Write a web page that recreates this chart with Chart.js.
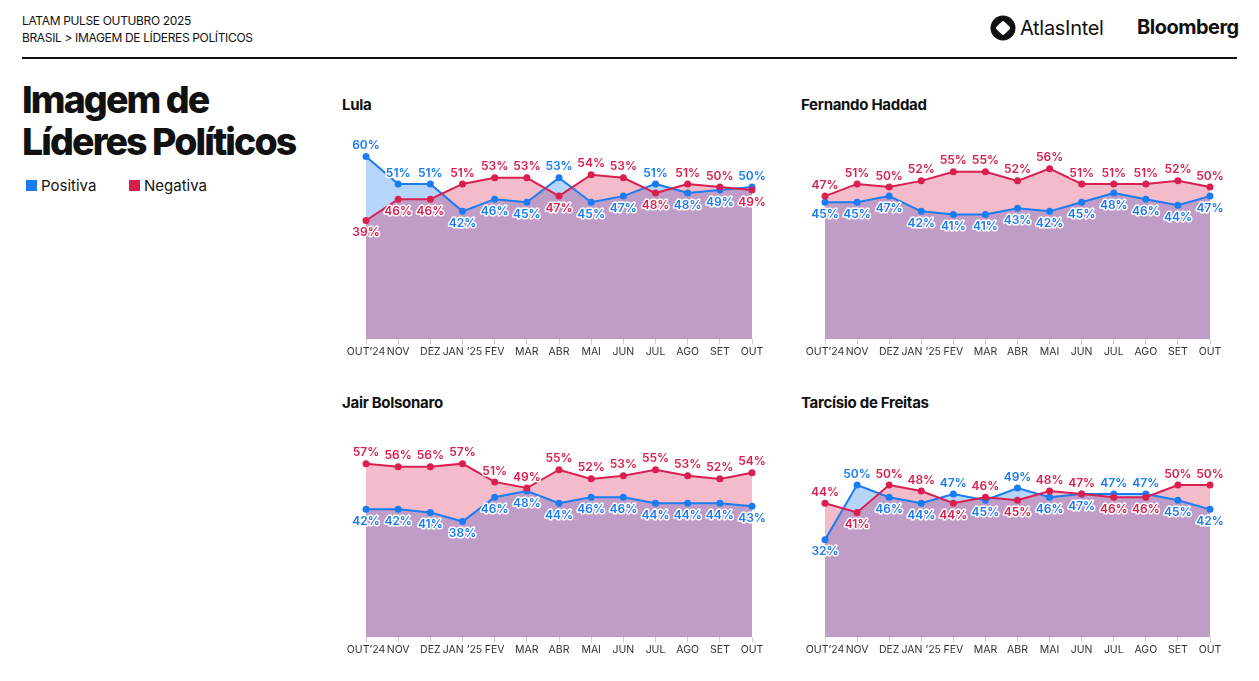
<!DOCTYPE html>
<html>
<head>
<meta charset="utf-8">
<script src="https://cdn.jsdelivr.net/npm/chart.js@4.4.1/dist/chart.umd.min.js"></script>
<style>
  html,body{margin:0;padding:0;background:#fff;}
  body{width:1259px;height:681px;position:relative;overflow:hidden;font-family:Inter,"Noto Sans",sans-serif;color:#111;}
  .abs{position:absolute;}
  .hdr{left:22px;font-size:12px;line-height:16px;color:#111;letter-spacing:-0.35px;}
  .rule{left:22px;top:57px;width:1215px;height:1.5px;background:#111;}
  .bigtitle{left:22px;top:79px;font-size:37.5px;font-weight:800;line-height:42px;letter-spacing:-1.9px;}
  .leg{top:176px;font-size:15px;display:flex;align-items:center;}
  .leg span.sw{display:inline-block;width:11px;height:11px;margin-right:4px;}
  .sub{font-size:15px;font-weight:700;letter-spacing:-0.3px;}
  canvas{position:absolute;}
</style>
</head>
<body>
<div class="abs hdr" style="top:13px;">LATAM PULSE OUTUBRO 2025</div>
<div class="abs hdr" style="top:30px;">BRASIL &gt; IMAGEM DE LÍDERES POLÍTICOS</div>
<div class="abs" style="left:990px;top:15px;width:26px;height:26px;">
  <svg width="26" height="26" viewBox="0 0 26 26"><circle cx="13" cy="13" r="12.5" fill="#111"/><rect x="7.5" y="7.5" width="11" height="11" rx="2" fill="#fff" transform="rotate(45 13 13)"/></svg>
</div>
<div class="abs" style="left:1020px;top:15px;font-size:20px;line-height:26px;letter-spacing:-0.3px;">AtlasIntel</div>
<div class="abs" style="left:1137px;top:14px;font-size:20px;font-weight:700;line-height:26px;letter-spacing:-0.5px;">Bloomberg</div>
<div class="abs rule"></div>
<div class="abs bigtitle">Imagem de<br>Líderes Políticos</div>
<div class="abs leg" style="left:26px;"><span class="sw" style="background:#1a7cf2"></span>Positiva</div>
<div class="abs leg" style="left:129px;"><span class="sw" style="background:#d91f4f"></span>Negativa</div>

<div class="abs sub" style="left:342px;top:95px;">Lula</div>
<div class="abs sub" style="left:801px;top:95px;">Fernando Haddad</div>
<div class="abs sub" style="left:342px;top:393px;">Jair Bolsonaro</div>
<div class="abs sub" style="left:801px;top:393px;">Tarcísio de Freitas</div>

<canvas id="c1" width="446" height="240" style="left:336px;top:119px;"></canvas>
<canvas id="c2" width="445" height="240" style="left:795px;top:119px;"></canvas>
<canvas id="c3" width="446" height="240" style="left:336px;top:417px;"></canvas>
<canvas id="c4" width="445" height="240" style="left:795px;top:417px;"></canvas>

<script>
const months = ["OUT’24","NOV","DEZ","JAN ’25","FEV","MAR","ABR","MAI","JUN","JUL","AGO","SET","OUT"];

const lulaPos = [60,51,51,42,46,45,53,45,47,51,48,49,50];
const lulaNeg = [39,46,46,51,53,53,47,54,53,48,51,50,49];

const haddadPos = [45,45,47,42,41,41,43,42,45,48,46,44,47];
const haddadNeg = [47,51,50,52,55,55,52,56,51,51,51,52,50];

const bolsonaroPos = [42,42,41,38,46,48,44,46,46,44,44,44,43];
const bolsonaroNeg = [57,56,56,57,51,49,55,52,53,55,53,52,54];

const tarcisioPos = [32,50,46,44,47,45,49,46,47,47,47,45,42];
const tarcisioNeg = [44,41,50,48,44,46,45,48,47,46,46,50,50];

const BLUE = '#1a7cf2', RED = '#d91f4f';
const BLUE_FILL = 'rgba(26,124,242,0.32)', RED_FILL = 'rgba(217,31,79,0.30)';

const labelPlugin = {
  id: 'valueLabels',
  afterDatasetsDraw(chart) {
    const ctx = chart.ctx;
    const pos = chart.data.datasets[0].data;
    const neg = chart.data.datasets[1].data;
    ctx.save();
    ctx.font = '600 12px Inter, "Noto Sans", sans-serif';
    ctx.textAlign = 'center';
    ctx.textBaseline = 'middle';
    ctx.lineJoin = 'round';
    [0,1].forEach(d => {
      const meta = chart.getDatasetMeta(d);
      const data = chart.data.datasets[d].data;
      const color = chart.data.datasets[d].borderColor;
      meta.data.forEach((pt, i) => {
        const v = data[i];
        const other = d === 0 ? neg[i] : pos[i];
        const above = d === 0 ? v > other : v >= other;
        const y = above ? pt.y - 11 : pt.y + 12;
        const txt = v + '%';
        ctx.strokeStyle = '#fff';
        ctx.lineWidth = 3;
        ctx.strokeText(txt, pt.x, y);
        ctx.fillStyle = color;
        ctx.fillText(txt, pt.x, y);
      });
    });
    ctx.restore();
  }
};

function makeChart(id, posData, negData) {
  new Chart(document.getElementById(id), {
    type: 'line',
    data: {
      labels: months,
      datasets: [
        { label: 'Positiva', data: posData, borderColor: BLUE, backgroundColor: BLUE_FILL,
          pointBackgroundColor: BLUE, pointBorderColor: BLUE, pointRadius: 3.5, pointBorderWidth: 0,
          borderWidth: 2, tension: 0, fill: 'origin', order: 1 },
        { label: 'Negativa', data: negData, borderColor: RED, backgroundColor: RED_FILL,
          pointBackgroundColor: RED, pointBorderColor: RED, pointRadius: 3.5, pointBorderWidth: 0,
          borderWidth: 2, tension: 0, fill: 'origin', order: 0 }
      ]
    },
    options: {
      responsive: false,
      animation: false,
      events: [],
      layout: { padding: { left: 30, right: 30, top: 7, bottom: 0 } },
      plugins: {
        legend: { display: false },
        tooltip: { enabled: false },
        title: { display: false },
        filler: { drawTime: 'beforeDatasetsDraw' }
      },
      scales: {
        x: {
          offset: false,
          border: { display: false },
          grid: { display: true, drawOnChartArea: false, drawTicks: true, tickLength: 5, color: '#d0d0d0' },
          ticks: { autoSkip: false, maxRotation: 0, padding: 1, color: '#333',
                   font: { family: 'Inter, "Noto Sans", sans-serif', size: 10.5 } }
        },
        y: { display: false, min: 0, max: 70 }
      }
    },
    plugins: [labelPlugin]
  });
}

makeChart('c1', lulaPos, lulaNeg);
makeChart('c2', haddadPos, haddadNeg);
makeChart('c3', bolsonaroPos, bolsonaroNeg);
makeChart('c4', tarcisioPos, tarcisioNeg);
</script>
</body>
</html>
